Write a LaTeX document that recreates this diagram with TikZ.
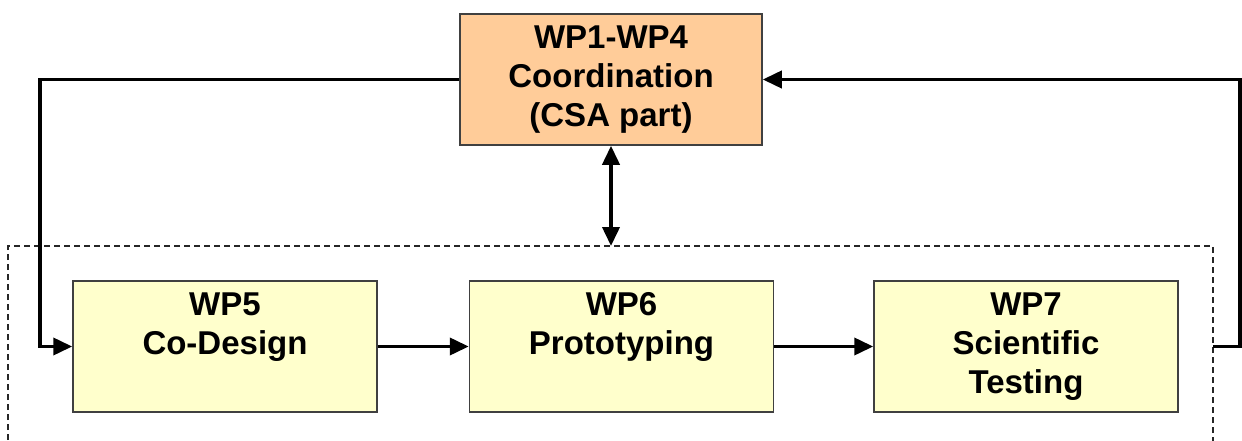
\documentclass[tikz,border=0pt]{standalone}
\usepackage{fontspec}
\setmainfont{Liberation Sans}
\usetikzlibrary{arrows.meta}
\definecolor{wpyellow}{HTML}{FFFFCC}
\definecolor{wporange}{HTML}{FFCC99}
\definecolor{wpborder}{HTML}{404040}
\tikzset{
  wpbox/.style={draw=wpborder, line width=1.5pt, fill=wpyellow, minimum width=304pt,
    minimum height=131pt, inner sep=0pt, align=center,
    font=\fontsize{33}{39}\selectfont\bfseries},
  coordbox/.style={wpbox, fill=wporange, minimum width=302pt},
  flow/.style={line width=3.8pt, -{Triangle[length=19pt,width=17pt]}},
  both/.style={line width=3.8pt, {Triangle[length=19pt,width=17pt]}-{Triangle[length=19pt,width=17pt]}},
  frame/.style={line width=1.2pt, draw=black!85, dash pattern=on 6pt off 4pt}
}
\begin{document}
\begin{tikzpicture}[x=1pt,y=-1pt]
  \useasboundingbox (0,0) rectangle (1242,441);

  % work package boxes
  \node[coordbox] (wp14) at (611,79.5) {\strut WP1-WP4\\\strut Coordination\\\strut (CSA part)};
  \node[wpbox] (wp5) at (225,346.5) {\strut WP5\\\strut Co-Design\\\strut};
  \node[wpbox] (wp6) at (621.5,346.5) {\strut WP6\\\strut Prototyping\\\strut};
  \node[wpbox] (wp7) at (1026,346.5) {\strut WP7\\\strut Scientific\\\strut Testing};

  % dashed frame around the research work packages (open at the bottom)
  \coordinate (fbl) at (8,450);
  \coordinate (ftl) at (8,246);
  \coordinate (ftr) at (1213,246);
  \coordinate (fbr) at (1213,450);
  \draw[frame] (fbl) -- (ftl) -- (ftr) -- (fbr);

  % connectors
  \coordinate (lcorner) at (40,346.5);
  \coordinate (fright) at (1213,346.5);
  \coordinate (rcorner) at (1240,79.5);
  \coordinate (ftop) at (611,246);

  \draw[flow] (wp14.west) -| (lcorner) -- (wp5.west);
  \draw[flow] (wp5.east) -- (wp6.west);
  \draw[flow] (wp6.east) -- (wp7.west);
  \draw[flow] (fright) -| (rcorner) -- (wp14.east);
  \draw[both] (wp14.south) -- (ftop);
\end{tikzpicture}
\end{document}
